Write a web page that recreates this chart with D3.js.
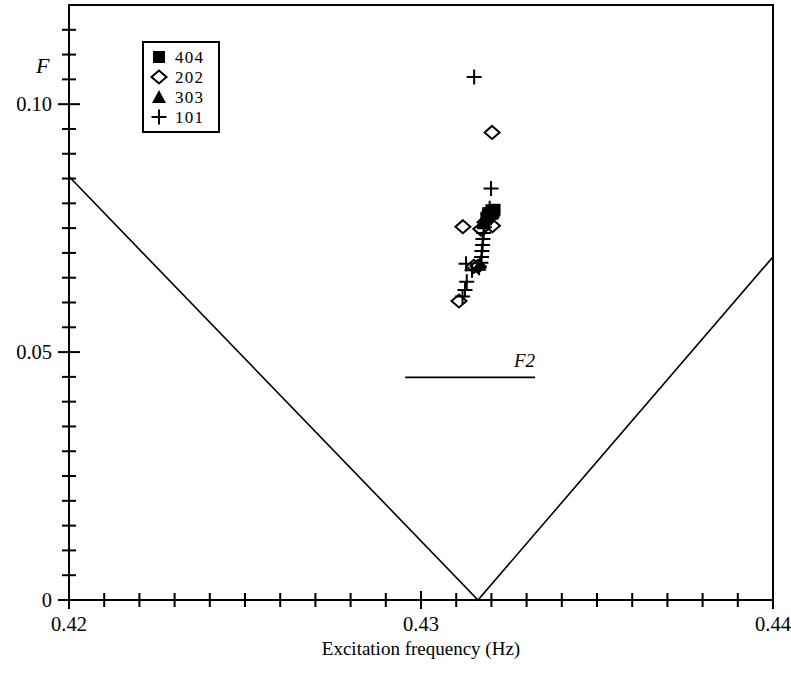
<!DOCTYPE html>
<html>
<head>
<meta charset="utf-8">
<script src="https://cdn.jsdelivr.net/npm/d3@7"></script>
<style>
  html, body { margin: 0; padding: 0; background: #fff; }
  svg { display: block; }
</style>
</head>
<body>
<svg id="chart" width="791" height="677"></svg>
<script>
// Stability boundary (two straight branches meeting at the resonance)
const boundaryFreq = [0.42, 0.43162, 0.44];
const boundaryF    = [0.0854, 0.0, 0.0692];

// Reference level F2
const f2Freq = [0.42955, 0.43324];
const f2Level = 0.0449;

// Measured runs: excitation frequency (Hz) and amplitude F
const run404Freq = [0.43200, 0.43206, 0.43195, 0.43190, 0.43186, 0.43209, 0.43203];
const run404F    = [0.0786, 0.0782, 0.0780, 0.0776, 0.0771, 0.0787, 0.0779];

const run202Freq = [0.43202, 0.43119, 0.43203, 0.43182, 0.43170, 0.43150, 0.43162, 0.43108, 0.43192];
const run202F    = [0.0943, 0.0753, 0.0755, 0.0762, 0.0748, 0.0673, 0.0673, 0.0603, 0.0770];

const run303Freq = [0.43196, 0.43189, 0.43183, 0.43178, 0.43166];
const run303F    = [0.0784, 0.0777, 0.0768, 0.0760, 0.0676];

const run101Freq = [0.43151, 0.43199, 0.43195, 0.43190, 0.43185, 0.43180, 0.43178, 0.43176, 0.43175,
                    0.43173, 0.43172, 0.43170, 0.43165, 0.43128, 0.43145, 0.43130, 0.43125, 0.43118];
const run101F    = [0.1055, 0.0830, 0.0790, 0.0778, 0.0765, 0.0752, 0.0740, 0.0728, 0.0716,
                    0.0704, 0.0692, 0.0680, 0.0670, 0.0678, 0.0665, 0.0642, 0.0625, 0.0612];

const legendLabels = ["404", "202", "303", "101"];

const xMajorTicks = [0.42, 0.43, 0.44];
const xTickLabels = ["0.42", "0.43", "0.44"];
const yMajorTicks = [0, 0.05, 0.10];
const yTickLabels = ["0", "0.05", "0.10"];

const serif = "'Liberation Serif', 'Times New Roman', Times, serif";

const svg = d3.select("#chart").attr("font-family", serif);
const plotLeft = 69, plotRight = 773, plotTop = 5, plotBottom = 600;

const x = d3.scaleLinear().domain([0.42, 0.44]).range([plotLeft, plotRight]);
const y = d3.scaleLinear().domain([0, 0.12]).range([plotBottom, plotTop]);

// Frame
svg.append("rect")
  .attr("x", plotLeft).attr("y", plotTop)
  .attr("width", plotRight - plotLeft).attr("height", plotBottom - plotTop)
  .attr("fill", "none").attr("stroke", "#000").attr("stroke-width", 2);

// X ticks (minor every 0.001, major every 0.01), crossing the axis
const xMinor = d3.range(0, 21).map(i => 0.42 + i * 0.001);
svg.append("g").selectAll("line").data(xMinor).join("line")
  .attr("x1", d => x(d)).attr("x2", d => x(d))
  .attr("y1", (d, i) => i % 10 === 0 ? plotBottom - 9 : plotBottom - 7)
  .attr("y2", (d, i) => i % 10 === 0 ? plotBottom + 9 : plotBottom + 7)
  .attr("stroke", "#000").attr("stroke-width", 2);

// Y ticks (minor every 0.005, major every 0.05)
const yMinor = d3.range(0, 24).map(i => i * 0.005);
svg.append("g").selectAll("line").data(yMinor).join("line")
  .attr("y1", d => y(d)).attr("y2", d => y(d))
  .attr("x1", (d, i) => i % 10 === 0 ? plotLeft - 11 : plotLeft - 7)
  .attr("x2", (d, i) => i % 10 === 0 ? plotLeft + 11 : plotLeft + 7)
  .attr("stroke", "#000").attr("stroke-width", 2);

// Tick labels
svg.append("g").selectAll("text").data(xMajorTicks).join("text")
  .attr("x", d => x(d)).attr("y", 631)
  .attr("text-anchor", "middle").attr("font-size", 20.5)
  .text((d, i) => xTickLabels[i]);

svg.append("g").selectAll("text").data(yMajorTicks).join("text")
  .attr("x", 52).attr("y", d => y(d) + 7)
  .attr("text-anchor", "end").attr("font-size", 20.5)
  .text((d, i) => yTickLabels[i]);

// Axis titles
svg.append("text")
  .attr("x", 421).attr("y", 655)
  .attr("text-anchor", "middle").attr("font-size", 19)
  .text("Excitation frequency (Hz)");
svg.append("text")
  .attr("x", 36).attr("y", 73)
  .attr("font-size", 22).attr("font-style", "italic")
  .text("F");

// Boundary lines
const line = d3.line().x(d => x(d[0])).y(d => y(d[1]));
svg.append("path")
  .datum(boundaryFreq.map((f, i) => [f, boundaryF[i]]))
  .attr("d", line).attr("fill", "none")
  .attr("stroke", "#000").attr("stroke-width", 1.6);

svg.append("path")
  .datum(f2Freq.map(f => [f, f2Level]))
  .attr("d", line).attr("fill", "none")
  .attr("stroke", "#000").attr("stroke-width", 1.6);
svg.append("text")
  .attr("x", x(f2Freq[1])).attr("y", y(f2Level) - 10)
  .attr("text-anchor", "end").attr("font-size", 19).attr("font-style", "italic")
  .text("F2");

// Marker shapes
const markers = {
  "404": g => g.append("rect").attr("x", -6).attr("y", -6).attr("width", 12).attr("height", 12).attr("fill", "#000"),
  "202": g => g.append("path").attr("d", "M0,-6.5L7.5,0L0,6.5L-7.5,0Z").attr("fill", "#fff").attr("stroke", "#000").attr("stroke-width", 2),
  "303": g => g.append("path").attr("d", "M0,-7L7,6L-7,6Z").attr("fill", "#000"),
  "101": g => g.append("path").attr("d", "M-7.5,0H7.5M0,-7.5V7.5").attr("fill", "none").attr("stroke", "#000").attr("stroke-width", 2)
};

function drawRun(name, freqs, vals) {
  const g = svg.append("g");
  freqs.forEach((f, i) => {
    const m = g.append("g").attr("transform", `translate(${x(f)},${y(vals[i])})`);
    markers[name](m);
  });
}
drawRun("202", run202Freq, run202F);
drawRun("101", run101Freq, run101F);
drawRun("303", run303Freq, run303F);
drawRun("404", run404Freq, run404F);

// Legend
const lg = svg.append("g");
lg.append("rect").attr("x", 143).attr("y", 42).attr("width", 76).attr("height", 90)
  .attr("fill", "#fff").attr("stroke", "#000").attr("stroke-width", 2);
legendLabels.forEach((name, i) => {
  const cy = 57 + i * 20;
  const m = lg.append("g").attr("transform", `translate(159,${cy})`);
  markers[name](m);
  lg.append("text")
    .attr("x", 175).attr("y", cy + 6)
    .attr("font-size", 17).attr("letter-spacing", 1.3)
    .text(name);
});
</script>
</body>
</html>
